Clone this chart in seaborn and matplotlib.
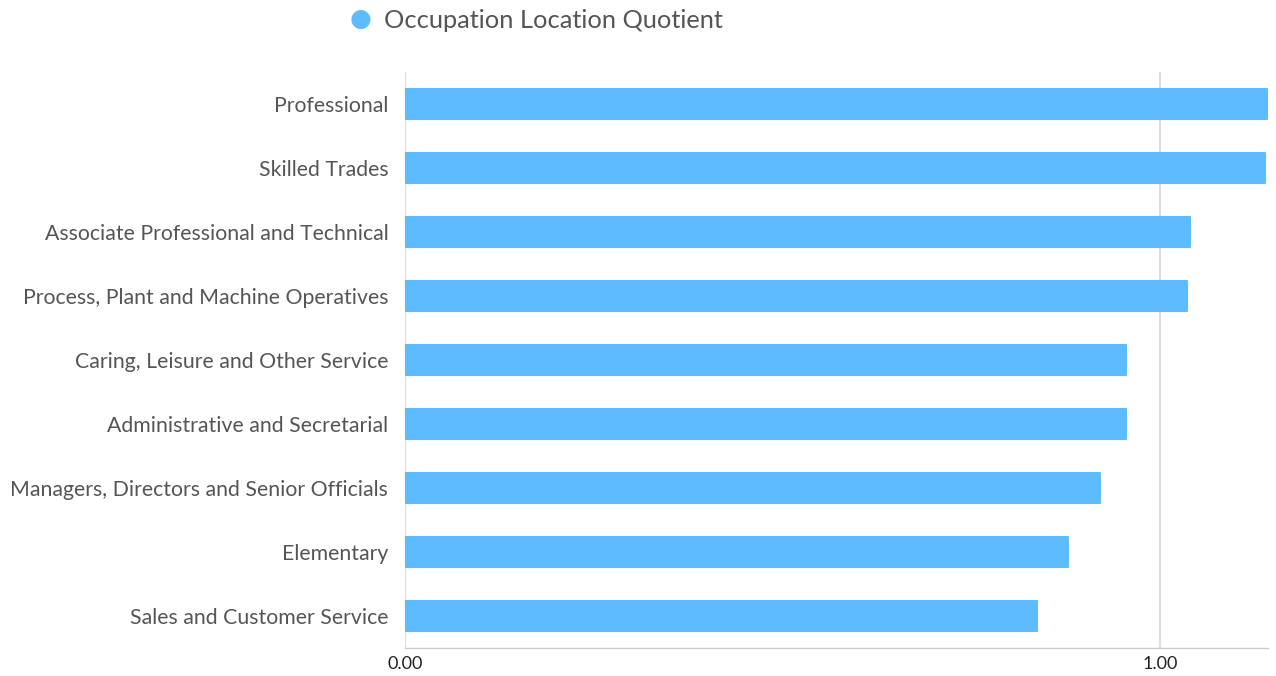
import matplotlib
matplotlib.use("Agg")
import matplotlib.pyplot as plt
import seaborn as sns
import pandas as pd

# Dados do gráfico
categorias = [
    "Professional",
    "Skilled Trades",
    "Associate Professional and Technical",
    "Process, Plant and Machine Operatives",
    "Caring, Leisure and Other Service",
    "Administrative and Secretarial",
    "Managers, Directors and Senior Officials",
    "Elementary",
    "Sales and Customer Service",
]
quocientes = [1.142, 1.139, 1.040, 1.036, 0.955, 0.955, 0.920, 0.878, 0.837]
serie_nome = "Occupation Location Quotient"
xticks = [0.0, 1.0]
xtick_labels = ["0.00", "1.00"]

df = pd.DataFrame({"categoria": categorias, "valor": quocientes})

sns.set_style("white")
plt.rcParams["font.family"] = ["Lato", "DejaVu Sans"]

cor = "#5cbcff"
fig = plt.figure(figsize=(12.76, 6.76), dpi=100)
ax = fig.add_axes([405 / 1276, 1 - 648 / 676, 863 / 1276, 576 / 676])

sns.barplot(data=df, x="valor", y="categoria", color=cor, width=0.47,
            saturation=1, ax=ax, label=serie_nome)

# cantos levemente arredondados
for p in ax.patches:
    p.set_edgecolor(cor)
    p.set_linewidth(1.5)
    p.set_joinstyle("round")

ax.set_xlim(0, 1.143)
ax.set_ylim(len(categorias) - 0.5, -0.5)
ax.set_xticks(xticks)
ax.set_xticklabels(xtick_labels, fontsize=13, color="#222222")
ax.tick_params(axis="y", labelsize=15.3, colors="#555555", length=0, pad=12)
ax.tick_params(axis="x", length=0, pad=6)
ax.set_xlabel("")
ax.set_ylabel("")

for x in xticks:
    ax.axvline(x, color="#dddddd", linewidth=1.5, zorder=0)

for s in ["top", "right", "left"]:
    ax.spines[s].set_visible(False)
ax.spines["bottom"].set_color("#cccccc")
ax.spines["bottom"].set_linewidth(1)

if ax.get_legend() is not None:
    ax.get_legend().remove()

# legenda no topo
fig.text(361 / 1276, 1 - 19 / 676, "\u25cf", color=cor, fontsize=18,
         ha="center", va="center", family=["DejaVu Sans"])
fig.text(384 / 1276, 1 - 20 / 676, serie_nome, color="#555555", fontsize=18.3,
         ha="left", va="center")

fig.savefig("out.png", dpi=100)
